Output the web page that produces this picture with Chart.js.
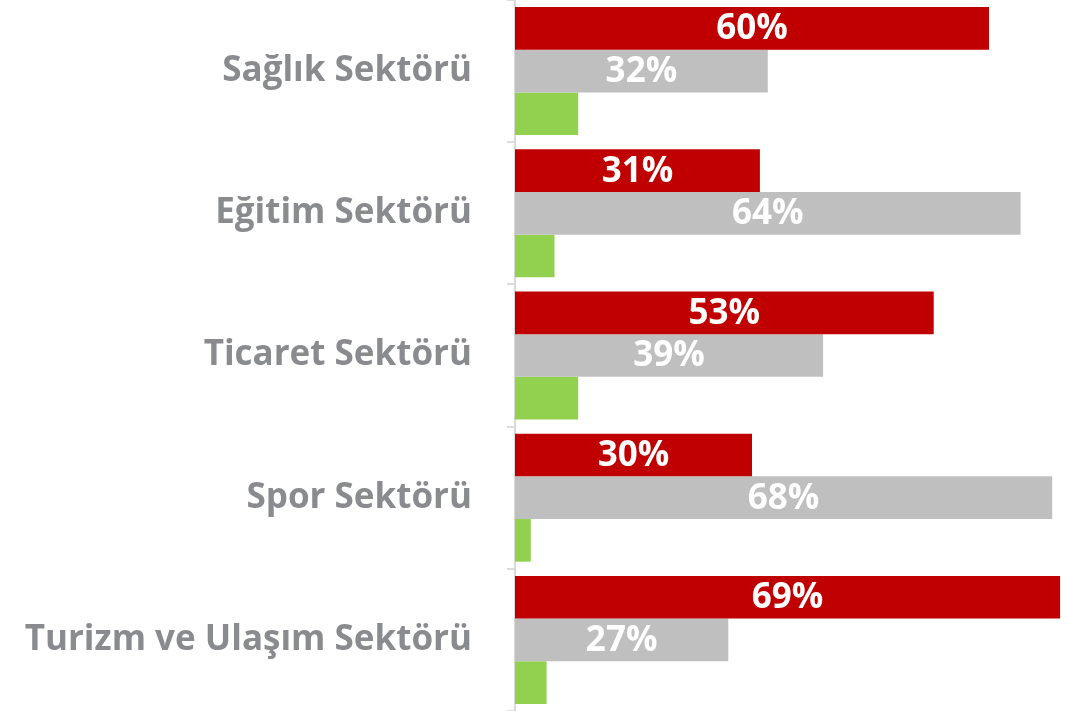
<!DOCTYPE html>
<html lang="tr">
<head>
<meta charset="utf-8">
<script src="https://cdn.jsdelivr.net/npm/chart.js@4.4.1/dist/chart.umd.min.js"></script>
<style>
  html, body { margin: 0; padding: 0; background: #fff; }
  #wrap { width: 1068px; height: 711px; }
</style>
</head>
<body>
<div id="wrap"><canvas id="sektorChart" width="1068" height="711"></canvas></div>
<script>
// Sektörler ve seriler (yüzde)
const sektorler = ['Sağlık Sektörü', 'Eğitim Sektörü', 'Ticaret Sektörü', 'Spor Sektörü', 'Turizm ve Ulaşım Sektörü'];
const kirmiziSeri = [60, 31, 53, 30, 69];
const griSeri = [32, 64, 39, 68, 27];
const yesilSeri = [8, 5, 8, 2, 4];

// Çubukların ortasına beyaz yüzde etiketi yazar
const degerEtiketi = {
    id: 'degerEtiketi',
    afterDatasetsDraw(chart) {
        const ctx = chart.ctx;
        ctx.save();
        ctx.font = 'bold 35px "Open Sans"';
        ctx.fillStyle = '#ffffff';
        ctx.textAlign = 'center';
        ctx.textBaseline = 'middle';
        chart.data.datasets.forEach((ds, i) => {
            if (!ds.etiketli) return;
            chart.getDatasetMeta(i).data.forEach((bar, j) => {
                const x = (bar.x + bar.base) / 2;
                ctx.fillText(ds.data[j] + '%', x, bar.y + 1);
            });
        });
        ctx.restore();
    }
};

new Chart(document.getElementById('sektorChart'), {
    type: 'bar',
    data: {
        labels: sektorler,
        datasets: [
            { label: 'Seri 1', data: kirmiziSeri, backgroundColor: '#c00000', etiketli: true },
            { label: 'Seri 2', data: griSeri, backgroundColor: '#bfbfbf', etiketli: true },
            { label: 'Seri 3', data: yesilSeri, backgroundColor: '#92d050', etiketli: false }
        ]
    },
    options: {
        indexAxis: 'y',
        responsive: false,
        animation: false,
        layout: { padding: 0 },
        datasets: {
            bar: { categoryPercentage: 0.9, barPercentage: 1.0 }
        },
        plugins: {
            legend: { display: false },
            tooltip: { enabled: false }
        },
        scales: {
            x: {
                display: false,
                min: 0,
                max: 70
            },
            y: {
                // eksen genişliği sabit, etiket boşluğu dikeyde yer kaplamasın
                afterFit(scale) {
                    scale.width = 515;
                    scale.paddingTop = 0;
                    scale.paddingBottom = 0;
                },
                border: { display: true, color: '#d9d9d9', width: 2 },
                grid: {
                    display: true,
                    drawOnChartArea: false,
                    drawTicks: true,
                    tickLength: 8,
                    offset: true,
                    color: '#dcdcdc',
                    lineWidth: 2
                },
                ticks: {
                    padding: 35,
                    color: '#898b8f',
                    font: { family: '"Open Sans"', size: 35, weight: 'bold' }
                }
            }
        }
    },
    plugins: [degerEtiketi]
});
</script>
</body>
</html>
